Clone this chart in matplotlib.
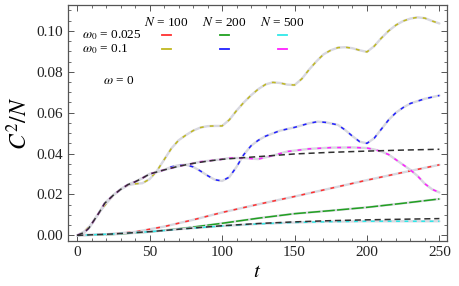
import matplotlib.pyplot as plt
from matplotlib.ticker import MultipleLocator

plt.rcParams['font.family'] = ['Liberation Serif', 'DejaVu Serif']
plt.rcParams['mathtext.fontset'] = 'stix'

# omega = 0 reference curves (black dashed)
t_ref = [0, 5, 8, 11, 15, 19, 25, 30, 35, 40, 45, 50, 60, 70, 80, 90, 100,
         115, 125, 150, 175, 200, 225, 250]
ref_hi = [0, 0.0015, 0.0035, 0.0067, 0.011, 0.0157, 0.0197, 0.0225, 0.0248,
          0.0262, 0.028, 0.030, 0.032, 0.0338, 0.0352, 0.0363, 0.0372,
          0.038, 0.0385, 0.0398, 0.0406, 0.0412, 0.0417, 0.0421]
t_lo = [0, 25, 50, 75, 100, 125, 150, 175, 200, 225, 250]
ref_lo = [0, 0.0007, 0.0018, 0.0033, 0.0047, 0.0058, 0.0066, 0.0072, 0.0076,
          0.0079, 0.0082]

# omega0 = 0.025
t_red = [0, 20, 40, 60, 80, 100, 125, 150, 175, 200, 225, 250]
red = [0, 0.0005, 0.0017, 0.0043, 0.0076, 0.0112, 0.0152, 0.019, 0.023,
       0.027, 0.0308, 0.0345]
green = [0, 0.0005, 0.0017, 0.0036, 0.0059, 0.0084, 0.0106, 0.0121, 0.0137,
         0.0157, 0.0178]
cyan = [0, 0.0007, 0.0018, 0.0033, 0.0046, 0.0056, 0.0063, 0.0067, 0.0069,
        0.0069, 0.0069]

# omega0 = 0.1
t_yel = list(range(0, 255, 5))
yellow = [0, 0.002, 0.0055, 0.011, 0.0155, 0.0197, 0.0225, 0.0245, 0.0252,
          0.0255, 0.0275, 0.0315, 0.037, 0.0425, 0.0465, 0.049, 0.0512,
          0.0527, 0.0534, 0.0535, 0.0535, 0.0565, 0.061, 0.065, 0.0685,
          0.0715, 0.0738, 0.0748, 0.0745, 0.0737, 0.0735, 0.0765, 0.081,
          0.085, 0.0885, 0.0905, 0.0918, 0.092, 0.0915, 0.0905, 0.0897,
          0.0925, 0.0965, 0.1, 0.1028, 0.1048, 0.106, 0.1066, 0.1062, 0.1048,
          0.1036]
t_blue = [0, 5, 8, 11, 15, 19, 25, 30, 35, 40, 45, 50, 55, 60, 65, 70, 75,
          80, 85, 90, 95, 100, 105, 110, 115, 120, 125, 130, 140, 150, 160,
          166, 172, 180, 185, 190, 195, 200, 205, 210, 215, 220, 225, 230,
          240, 250]
blue = [0, 0.0015, 0.0035, 0.0067, 0.011, 0.0157, 0.0197, 0.0225, 0.0248,
        0.0262, 0.028, 0.030, 0.031, 0.032, 0.0335, 0.0343, 0.0345, 0.0335,
        0.0315, 0.0292, 0.0272, 0.0266, 0.0285, 0.0335, 0.0395, 0.0438,
        0.0465, 0.0485, 0.0512, 0.0528, 0.0548, 0.0556, 0.0552, 0.054,
        0.0515, 0.0485, 0.0458, 0.045, 0.0475, 0.052, 0.0565, 0.06, 0.0625,
        0.0645, 0.0668, 0.0684]
t_mag = [0, 5, 8, 11, 15, 19, 25, 30, 35, 40, 45, 50, 60, 70, 80, 85, 100,
         105, 115, 125, 135, 145, 160, 175, 190, 200, 205, 210, 215, 220,
         225, 230, 235, 240, 245, 250]
magenta = [0, 0.0015, 0.0035, 0.0067, 0.011, 0.0157, 0.0197, 0.0225, 0.0248,
           0.0262, 0.028, 0.030, 0.032, 0.0338, 0.0352, 0.036, 0.0372,
           0.0378, 0.0378, 0.0373, 0.039, 0.041, 0.0423, 0.0429, 0.043,
           0.0427, 0.042, 0.041, 0.0395, 0.037, 0.0345, 0.032, 0.029,
           0.0252, 0.0225, 0.021]

fig = plt.figure(figsize=(4.59, 2.86), dpi=100)
ax = fig.add_axes([0.148, 0.157, 0.826, 0.826])

halo = '#d8d8e0'
series = [
    (t_red, red, '#ff3030', (2.5, 4)),
    (t_lo, green, '#20a020', (8, 1.5)),
    (t_lo, cyan, '#30e8e8', (2.5, 3)),
    (t_yel, yellow, '#c0b820', (2.5, 4)),
    (t_blue, blue, '#2020ff', (2.5, 4)),
    (t_mag, magenta, '#ff20ff', (2.5, 4)),
]
for tt, yy, c, d in series:
    ax.plot(tt, yy, color=halo, lw=1.7, solid_capstyle='round')
    ax.plot(tt, yy, color=c, lw=1.1, dashes=d)

ax.plot(t_ref, ref_hi, color='#303030', lw=1.1, dashes=(4, 2.5))
ax.plot(t_lo, ref_lo, color='#303030', lw=1.1, dashes=(4, 2.5))

ax.set_xlim(-6.4, 255.3)
ax.set_ylim(-0.0028, 0.1127)
ax.xaxis.set_major_locator(MultipleLocator(50))
ax.xaxis.set_minor_locator(MultipleLocator(10))
ax.yaxis.set_major_locator(MultipleLocator(0.02))
ax.yaxis.set_minor_locator(MultipleLocator(0.005))
ax.yaxis.set_major_formatter(plt.FormatStrFormatter('%.2f'))
ax.tick_params(which='both', direction='in', top=True, right=True,
               colors='#555555', labelcolor='#222222', labelsize=11)
ax.tick_params(which='major', length=4, width=0.7)
ax.tick_params(which='minor', length=2, width=0.6)
for s in ax.spines.values():
    s.set_color('#555555')
    s.set_linewidth(0.9)

ax.set_xlabel('$t$', fontsize=15, labelpad=3)
ax.set_ylabel('$C^2/N$', fontsize=17, labelpad=3)

# legend drawn as text
col_x = [166, 224, 282]
col_names = ['$N$ = 100', '$N$ = 200', '$N$ = 500']
row_names = ['$\\omega_0$ = 0.025', '$\\omega_0$ = 0.1']
def fx(px):
    return px / 459
def fy(py):
    return 1 - py / 286
for x, name in zip(col_x, col_names):
    fig.text(fx(x), fy(22), name, fontsize=9.5, ha='center', va='center')
for r, name in enumerate(row_names):
    fig.text(fx(82), fy(35 + 14 * r), name, fontsize=9.5, ha='left', va='center')
leg_colors = [['#ff3030', '#20a020', '#30e8e8'], ['#c0b820', '#2020ff', '#ff20ff']]
for r in range(2):
    for k, x in enumerate(col_x):
        y = fy(35 + 14 * r)
        fig.lines.append(plt.Line2D([fx(x - 4.5), fx(x + 4.5)], [y, y],
                                    transform=fig.transFigure,
                                    color=leg_colors[r][k], lw=1.3))
fig.text(fx(103), fy(81), '$\\omega$ = 0', fontsize=9.5, ha='left', va='center')

fig.savefig('out.png', dpi=100)
